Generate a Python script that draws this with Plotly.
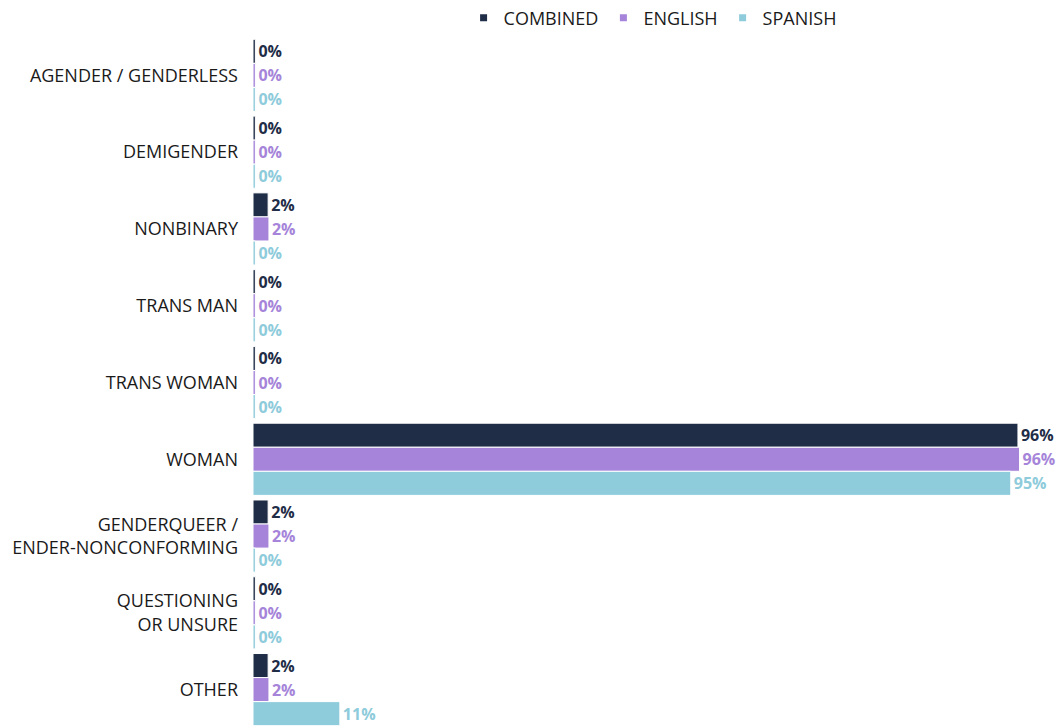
import plotly.graph_objects as go

# categories top to bottom
categories = [
    "AGENDER / GENDERLESS",
    "DEMIGENDER",
    "NONBINARY",
    "TRANS MAN",
    "TRANS WOMAN",
    "WOMAN",
    "GENDERQUEER /<br>ENDER-NONCONFORMING",
    "QUESTIONING<br>OR UNSURE",
    "OTHER",
]

# percentages (near-zero bars are hairlines)
combined = [0.3, 0.3, 1.9, 0.3, 0.3, 96.0, 1.9, 0.3, 1.9]
english = [0.3, 0.3, 2.0, 0.3, 0.3, 96.2, 2.0, 0.3, 2.0]
spanish = [0.3, 0.3, 0.3, 0.3, 0.3, 95.1, 0.3, 0.3, 10.9]

series = [
    ("COMBINED", combined, "#1f2d47"),
    ("ENGLISH", english, "#a584d9"),
    ("SPANISH", spanish, "#8ecbdb"),
]

FONT = "Open Sans"
W, H = 1057, 728
TOP, BOTTOM = 37, 0

fig = go.Figure()
for name, vals, color in series:
    fig.add_trace(go.Bar(
        y=categories, x=vals, orientation="h", name=name,
        marker=dict(color=color, line=dict(color="white", width=1)),
        text=[f"{round(v)}%" for v in vals],
        textposition="outside",
        textfont=dict(color=color, size=16, family=FONT, weight="bold"),
        constraintext="none",
        cliponaxis=False,
        hoverinfo="skip",
        showlegend=False,
    ))

# legend proxies: small square markers like the original
for name, vals, color in series:
    fig.add_trace(go.Scatter(
        x=[None], y=[None], mode="markers", name=name,
        marker=dict(color=color, size=7, symbol="square"),
        showlegend=True,
    ))

fig.update_layout(
    width=W, height=H,
    paper_bgcolor="white", plot_bgcolor="white",
    font=dict(family=FONT, color="#1a1a1a", size=18),
    margin=dict(l=253, r=0, t=TOP, b=BOTTOM, autoexpand=False),
    barmode="group", bargap=0.06, bargroupgap=0,
    legend=dict(
        orientation="h", x=0.497, xanchor="center",
        y=1 + (TOP - 18) / (H - TOP - BOTTOM), yanchor="middle",
        font=dict(size=18, color="#1a1a1a", family=FONT),
        traceorder="normal", itemwidth=30,
    ),
    xaxis=dict(range=[0, 100.9], visible=False, showgrid=False, zeroline=False),
    yaxis=dict(
        autorange="reversed", showgrid=False, zeroline=False, automargin=False,
        showline=False, ticks="", ticklabelstandoff=14,
        tickfont=dict(size=18, family=FONT, color="#1a1a1a"),
    ),
)

# drop the default page margin so the figure fills the window exactly
fig.write_html(
    "out.html",
    config={"displayModeBar": False},
    post_script="document.body.style.margin='0';document.body.style.overflow='hidden';",
)
